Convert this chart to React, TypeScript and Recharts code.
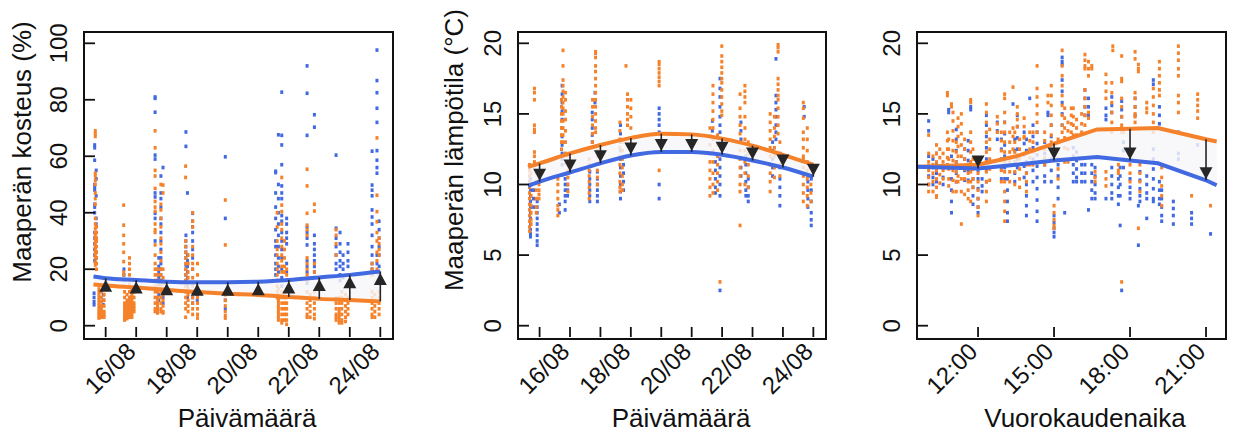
import React from 'react';
import { ComposedChart, Scatter, Line, Area, XAxis, YAxis, ReferenceLine } from 'recharts';

type Strip = [number, number[]];

const FONT = '"Liberation Sans", Arial, Helvetica, sans-serif';
const ORANGE = '#F5822A';
const BLUE = '#4169E1';
const DARK = '#262626';
const INK = '#111111';

const CHART_H = 437;
const MARGIN_TOP = 32;
const MARGIN_BOTTOM = 70;
const X_AXIS_H = 30;
const Y_AXIS_W = 30;

const dateTicks = [15, 16, 17, 18, 19, 20, 21, 22, 23, 24];
const dateLabelDays = [16, 18, 20, 22, 24];
const dateLabels = ['16/08', '18/08', '20/08', '22/08', '24/08'];
const hourTicks = [12, 15, 18, 21];
const hourLabels = ['12:00', '15:00', '18:00', '21:00'];
const moistTicks = [0, 20, 40, 60, 80, 100];
const tempTicks = [0, 5, 10, 15, 20];

const moistOrange: Strip[] = [
  [14.66, [69, 68, 67, 54, 53, 51.5, 50, 47, 45, 43, 38, 36, 34.5, 33, 32, 31, 30, 29, 28, 27, 26, 25, 24, 22.5, 21.5]],
  [14.7, [35, 33, 31, 30, 28, 26, 24, 22, 20]],
  [14.78, [14.5, 13, 12, 11, 10, 9, 8, 7, 6, 5, 4.5, 4, 3, 2.7]],
  [14.86, [12, 10, 8.5, 7, 6, 5, 4, 3.5, 3]],
  [14.95, [11, 9, 7, 5, 4, 3]],
  [15.59, [42.7, 35.6, 32, 29, 26, 22.7, 19, 18]],
  [15.62, [12, 10, 8, 7, 6, 5, 4, 3, 2.5, 2]],
  [15.7, [11, 9, 8, 7, 6, 5, 4, 3, 2.5]],
  [15.78, [24, 22, 20, 18, 16, 14.5, 12, 10, 9, 8, 7, 6, 5, 4, 3]],
  [15.86, [13, 11, 10, 9, 8, 7, 6, 5, 4, 3]],
  [15.93, [12, 10, 8, 7, 6, 5]],
  [16.62, [69, 63, 55, 53, 48.6, 44, 42, 40.5, 36, 34, 33, 28.6, 25, 22, 20, 18, 16, 14, 12, 10, 8, 6, 5]],
  [16.7, [20, 18, 16, 14, 12, 10, 9, 8, 7, 6, 5, 4.5]],
  [16.81, [50, 43, 41, 38, 35, 31, 29, 26, 23, 20, 18, 16, 14, 12, 10, 8, 6, 5]],
  [16.88, [49.8, 47, 20, 17, 15, 13, 11, 9, 7, 5, 4.5]],
  [17.62, [56.5, 52.5, 30, 28, 26, 24, 22, 20, 18, 16, 14, 12, 10, 8, 6, 3]],
  [17.7, [25, 22, 19, 17, 15, 13, 11, 9, 7, 5]],
  [17.85, [40, 37, 35, 28, 25, 22, 20, 17, 14, 12, 10, 8, 6, 4]],
  [18.01, [22, 18, 15, 12, 10, 8, 6, 4, 2.7]],
  [18.92, [44.5, 28.6, 11, 9, 7, 5, 3.5, 2.7]],
  [20.62, [40, 35, 30, 27, 25, 22, 20, 18, 16, 14, 12, 10]],
  [20.66, [13, 11, 10, 9, 8, 7, 6, 5, 4, 3, 2]],
  [20.77, [52.5, 42.7, 40.4, 36, 34, 31, 28, 25, 23, 21, 19, 12, 10, 8, 6, 4, 2, 1]],
  [20.86, [30, 27, 24, 21, 19, 12, 10, 8, 6, 4, 2]],
  [20.93, [20, 18, 10, 8, 6, 4, 2, 0.5]],
  [21.6, [55.4, 49.5, 39.8, 35.6, 34, 32, 24, 22, 20, 18, 16, 12, 10, 8, 6, 4, 3]],
  [21.7, [11, 9, 7, 5, 3]],
  [21.84, [43, 40.6, 22, 19, 17, 12, 10, 8, 6, 4, 2.5]],
  [22.55, [34, 32, 29, 25, 9.8, 8, 6, 4, 3, 2]],
  [22.65, [10, 8, 6, 5, 4, 3, 2, 1]],
  [22.74, [12, 10, 8, 6, 4, 2, 1]],
  [22.86, [11, 9, 7, 5, 3, 1.5]],
  [22.94, [10, 8, 6, 4]],
  [23.73, [22, 20, 18, 12, 10, 8, 6, 4, 3]],
  [23.82, [11, 9, 7, 5, 3]],
  [23.89, [66.5, 46.2, 40.4, 36.8, 33, 30, 26, 23, 20]],
  [23.96, [31, 29, 27, 25, 12, 10, 8, 6, 4]],
];
const moistBlue: Strip[] = [
  [14.64, [64, 63, 58.6, 50, 49, 48, 43, 42, 40, 33, 31, 29, 27, 25, 23]],
  [14.69, [55, 52, 46, 38, 36, 30, 26, 24]],
  [14.62, [11.5, 10, 8.5, 7.4]],
  [14.92, [11, 9, 7.4]],
  [15.6, [20, 18, 16]],
  [15.82, [10, 8]],
  [16.62, [81, 80.5, 75.6, 60.4, 59, 47, 45.6, 39.8, 38, 30]],
  [16.81, [53, 47, 45, 42, 38, 36, 33, 30, 27, 24, 22, 20, 18, 16, 14.5]],
  [16.88, [56, 15, 12, 10, 8]],
  [16.74, [24, 21, 19, 17, 15, 13, 11, 9]],
  [17.63, [68.6, 63.5, 32, 30, 28, 26, 24, 21.5, 20, 18, 16]],
  [17.68, [47, 25, 23, 21, 19, 17, 14, 12, 10]],
  [17.85, [39.8, 37, 35, 33, 30, 27, 24, 20, 15, 12, 10, 8]],
  [18.0, [14, 11, 9]],
  [18.92, [59.8, 38, 12, 9, 6]],
  [20.57, [54.7, 54.2, 47, 42, 38, 34, 30, 28, 25, 22, 20, 18]],
  [20.66, [67.6, 50, 45, 40, 36, 32, 28, 24, 21, 19]],
  [20.77, [82.7, 67.4, 64, 57, 49.5, 47, 45, 39, 37, 33, 30, 27, 24, 20, 17, 14]],
  [20.93, [38, 36, 33, 31, 29, 22, 19]],
  [21.6, [92, 82.3, 67.4, 35, 33, 31, 28.6, 23, 21, 19, 15]],
  [21.84, [74.7, 70.3, 32, 29, 27, 25, 23, 21, 19]],
  [22.55, [60.4, 34.5, 31, 28, 25, 22, 20]],
  [22.68, [33, 29, 26, 23, 21, 18, 16]],
  [22.78, [25, 22, 20, 17]],
  [22.94, [29, 26, 23, 21]],
  [23.73, [61.8, 49.8, 48, 46, 41, 38.5, 36, 32, 28, 25, 22, 20]],
  [23.89, [97.6, 86.8, 82.5, 77, 72, 62, 58.6, 56, 54, 25, 22]],
  [23.96, [37, 34, 31, 28, 25, 21, 18]],
];
const moistCurveX = [14.6, 15, 16, 17, 18, 19, 20, 21, 22, 23, 24];
const moistCurveOrange = [14.6, 14.2, 13.5, 12.7, 11.9, 11.3, 10.9, 10.2, 9.5, 9.1, 8.6];
const moistCurveBlue = [17.4, 16.8, 16.2, 15.6, 15.4, 15.4, 15.6, 16.2, 17.1, 18.0, 19.2];
const moistArrowX = [15, 16, 17, 18, 19, 20, 21, 22, 23, 24];
const moistArrowFrom = [14.2, 13.5, 12.7, 11.9, 11.3, 10.9, 10.2, 9.5, 9.1, 8.6];
const moistArrowTo = [16.8, 16.2, 15.6, 15.4, 15.4, 15.6, 16.2, 17.1, 18.0, 19.2];

const tempOrange: Strip[] = [
  [14.67, [11.4, 11, 10.6, 10.2, 9.8, 9.4, 9, 8.6, 8.2, 7.8, 7.4, 7, 6.7]],
  [14.72, [10.8, 10, 9.2, 8.5, 8, 7.5, 7.2]],
  [14.83, [16.8, 16.5, 16, 14.2, 13.9, 13.7, 12.3, 12, 11.6, 11.4]],
  [14.89, [10.8, 10.2, 9.6, 9, 8.4, 8]],
  [14.98, [10.4, 10, 9.6, 9.3, 9]],
  [15.6, [10.4, 10, 9.5, 9, 8.5, 8.2, 7.8]],
  [15.72, [16, 15.5, 15, 14.5, 14, 13.5, 13, 12.5]],
  [15.77, [19.5, 18.4, 17.4, 17, 16.6, 16.2, 15.8, 15.4, 15, 14.5, 14, 13.5, 13]],
  [15.85, [16.5, 16, 15.2, 14.6, 13.8, 13, 12.2, 11.5]],
  [15.93, [12, 11.5, 11, 10.5, 10, 9.5]],
  [16.63, [11.8, 11.4, 11, 10.6, 10.2, 9.8, 9.4, 9]],
  [16.74, [16, 15.5, 14.8, 14.2, 13.6, 13]],
  [16.84, [19.4, 19.3, 19, 18.4, 18, 17.5, 17, 16.5, 16, 15.5, 15, 14.5, 14, 13.7]],
  [16.9, [12.4, 12, 11.5, 11, 10.5, 10]],
  [17.64, [14.4, 13.8, 13.2, 12.6, 12, 11.4, 10.8, 10.2, 9.8, 9.5]],
  [17.72, [13, 12.4, 11.8, 11.2, 10.6, 10, 9.6]],
  [17.84, [18.4]],
  [17.89, [16.4, 16, 15.5, 15, 14.6, 14.2]],
  [18.0, [16, 15.4, 14.8, 14]],
  [18.93, [18.7, 18.5, 18.2, 17.9, 17.6, 17.3, 17, 11]],
  [20.6, [14, 13.4, 12.8, 12.2, 11.6, 11, 10.4, 9.8, 9.2]],
  [20.7, [17, 16.4, 15.8, 15.2, 14.6, 14, 13.2, 12.4, 11.6, 10.8, 10, 9.4]],
  [20.85, [13.5, 12.8, 12, 11.4, 10.8, 10.2, 9.6]],
  [20.93, [3.1]],
  [20.99, [19.8, 19.1, 18.7, 18.3, 17.9, 17.5, 17.2, 16.7, 16.2, 15.7, 15.2, 14.9]],
  [21.59, [16.4, 15.4, 14.8, 14.2, 13.6, 13, 12.4, 11.8, 11.2, 10.6, 10, 9.5, 7.1]],
  [21.75, [17, 16.6, 16.2, 15.8, 14.8, 14, 13.2, 12.4, 11.6, 10.8, 10]],
  [21.86, [13, 12.2, 11.4, 10.6, 9.8]],
  [22.58, [15, 14.4, 13.8, 13.2, 12.6, 12, 11.4, 10.8, 10.2, 9.5]],
  [22.72, [14.8, 14, 13.4, 12.6, 12, 11.2, 10.5]],
  [22.84, [19.9, 19.7, 19.4, 17.5, 17.1, 16.7, 16.3, 16, 15.4, 14.8, 14.2, 13.6]],
  [22.9, [13, 12.2, 11.4, 10.6]],
  [23.67, [15.8, 15.4, 14.7, 13.7, 13.2, 12.6, 12, 11.8, 11.2, 10.6, 10, 9.4, 8.8]],
  [23.8, [14, 13.2, 12.4, 11.6, 11, 10.4, 9.8, 9.2, 8.5]],
  [23.92, [11.2, 10.6, 10, 9.4, 8.8]],
];
const tempBlue: Strip[] = [
  [14.7, [10.4, 10, 9.6, 9.2, 8.8, 8.4, 8, 7.6, 7.2, 6.8, 6.5, 6.3]],
  [14.92, [8.8, 8.4, 8, 7.6, 7.2, 6.8, 6.4, 6, 5.7]],
  [14.8, [9.6, 9, 8.4]],
  [15.74, [17, 16.4, 15.8, 15.2, 14.6, 14, 13.4, 12.8, 12.2, 11.8, 11.4]],
  [15.84, [10.4, 10, 9.6, 9.2, 8.8, 8.2]],
  [15.92, [10, 9.6, 9.2]],
  [15.65, [8.6, 8]],
  [16.73, [15.1, 14.6, 14, 13.5, 13]],
  [16.65, [10.9, 10.4, 10, 9.6, 9.2, 8.8]],
  [16.9, [10.9, 10.4, 10, 9.6, 9.2, 8.8]],
  [16.82, [16.5, 15.8]],
  [17.66, [14.2, 13.6, 13, 12.4, 11.8, 11.2, 10.6, 10, 9.5, 9]],
  [17.76, [12, 11.4, 10.8, 10.2, 9.6]],
  [18.93, [15.4, 15, 14.6, 14.2, 13.7, 10, 9]],
  [20.93, [17.5, 16.8, 16.2, 15.5, 14.8, 14.2, 13.7, 11.8, 11.2, 10.6, 10, 9.2, 2.5]],
  [20.78, [11.6, 11, 10.4, 9.8, 9.4]],
  [20.68, [14.5, 13.8]],
  [21.62, [14.4, 13.8, 13.2, 11.2, 10.6]],
  [21.78, [12, 11.4, 10.8, 10.2, 9.6, 9.2]],
  [21.86, [10.4, 9.8, 9.2, 8.8]],
  [22.77, [18.9, 16.3, 15.8, 15.3, 14.8, 14.2, 13.7, 13.2]],
  [22.66, [13, 12.4, 11.8, 11.2, 10.6]],
  [22.9, [12, 11.2, 10.4, 9.8, 9.2, 8.5]],
  [23.7, [15.5, 14.8]],
  [23.82, [10.7, 10.2, 9.6, 9, 8.4]],
  [23.93, [10.4, 9.6, 8.8, 8, 7.5, 7.1]],
];
const tempCurveX = [14.62, 15, 16, 17, 18, 19, 20, 21, 22, 23, 24];
const tempCurveOrange = [11.25, 11.5, 12.2, 12.8, 13.3, 13.6, 13.55, 13.25, 12.75, 12.1, 11.4];
const tempCurveBlue = [9.9, 10.2, 10.85, 11.5, 12.05, 12.3, 12.3, 12.1, 11.7, 11.2, 10.55];
const tempArrowX = [15, 16, 17, 18, 19, 20, 21, 22, 23, 24];
const tempArrowFrom = [11.5, 12.2, 12.8, 13.3, 13.6, 13.55, 13.25, 12.75, 12.1, 11.4];
const tempArrowTo = [10.2, 10.85, 11.5, 12.05, 12.3, 12.3, 12.1, 11.7, 11.2, 10.55];

const hourOrange: Strip[] = [
  [10.05, [13.5, 12.2, 11.6, 11, 10.5, 10, 9.5]],
  [10.22, [12, 11.4, 10.8, 10.2, 9.5]],
  [10.36, [12.8, 12.2, 11.6, 11, 10.4, 9.8, 9.2, 9.1]],
  [10.49, [12.5, 11.9, 11.3, 10.7, 10.1]],
  [10.62, [12.2, 11.6, 11, 10.4]],
  [10.79, [16.5, 16.3, 13.7, 13.1, 12.5, 11.9, 11.4]],
  [10.84, [13.2, 12.5, 11.8, 11.1, 10.4, 9.9]],
  [10.95, [15.7, 15.5]],
  [11.01, [15.1, 14.5, 13.8, 13.1, 12.4, 11.7, 11, 10.3, 9.5]],
  [11.14, [13, 12.3, 11.6, 10.9, 10.2, 9.5]],
  [11.21, [14.7, 14.1, 13.4, 12.7, 12, 11.3, 10.6, 10.2]],
  [11.34, [15, 14.3, 13.6, 12.8, 12, 11.2, 10.4, 9.5, 7.2]],
  [11.47, [13.2, 12.5, 11.8, 11.1, 10.4, 9.3]],
  [11.61, [11.4, 10.8, 10.2, 9.6, 9]],
  [11.71, [16, 15.8, 13.7, 13, 12.3, 11.6, 10.9, 10.2, 8.8]],
  [11.8, [12.5, 11.8, 11.1, 10.4, 9.8]],
  [12.0, [11.4, 10.8, 10.2, 9.6, 9, 8.4, 7.8]],
  [12.33, [15.7, 15.1, 14.4, 13.7, 13, 12.3, 11.6, 10.9, 10.2, 9.5, 8.8]],
  [12.46, [13.9, 13.2, 12.5, 11.8, 11.1, 10.3]],
  [12.76, [14.8, 14.3, 13.7]],
  [12.92, [13.7, 13.1, 12.4, 11.7, 11, 10.2]],
  [13.05, [16.4, 16.1, 15.1, 14.4, 13.7, 13, 12.3, 11.6, 10.9, 10.2, 9.5, 8.8, 8.1, 7.4]],
  [13.25, [13.7, 13, 12.3, 11.6, 10.9, 10.2]],
  [13.38, [16.9, 14, 13.4, 12.5]],
  [13.45, [13.7, 13, 12.3, 11.6, 10.9, 10]],
  [13.55, [15.5, 15, 14.6, 14.1]],
  [13.64, [13.2, 12.5, 11.8, 11.1, 10.4, 9.8]],
  [13.82, [14.7, 14.1, 13.4, 13.3]],
  [13.91, [11.4, 10.8, 10.2, 9.5]],
  [14.04, [13.7, 13.1, 12.5, 11.9, 11.4]],
  [14.17, [13.7, 13, 12.3, 11.4]],
  [14.33, [18.4, 16.8, 16.2, 15.6, 15, 14.4, 13.7]],
  [14.63, [13.7, 13.1, 12.5, 11.9, 11.4]],
  [14.76, [16.3, 15.8]],
  [14.89, [17, 16.3, 15.6, 14.9, 14.2, 13.5, 13]],
  [15.0, [8.5, 8, 7.5, 7.1, 6.9]],
  [15.16, [13.2, 12.5, 11.8, 11.1, 10.4]],
  [15.32, [19.5, 18.4, 17.7, 17, 16.3, 15.6, 14.9, 14.2, 13.7]],
  [15.42, [15.4, 14.7, 14, 13.3, 12.6, 11.6]],
  [15.55, [14.4, 13.8, 13.2, 12.5, 11.6]],
  [15.68, [15.4, 14.9, 14.3, 13.7]],
  [15.76, [15.4, 14.8, 14.2, 13.5]],
  [15.89, [14.6, 14, 13.5]],
  [16.09, [15, 14.3, 13.7]],
  [16.22, [19.2, 18.8, 18.4, 18.2, 16.7, 16.1, 15.5, 14.9, 14.2]],
  [16.36, [18.7, 18.2, 17.7, 15.1, 14.7]],
  [16.49, [18.4, 18.2]],
  [16.62, [10.9, 10.5, 10.2]],
  [17.05, [17.8, 17.2, 16.6, 16.1, 10.9, 10.4, 9.9]],
  [17.28, [17.2, 16.5, 15.8, 15.1, 14.4, 13.7]],
  [17.32, [19.8, 19.5]],
  [17.54, [11.4, 11, 10.8]],
  [17.67, [19.1, 17.5, 17.3, 16.1, 15.5, 14.8, 14.2, 13.7, 3.1]],
  [17.74, [13.7]],
  [18.0, [11.4, 10.8, 10.2]],
  [18.2, [19.4, 18.9, 16.5, 16.1, 15.5, 15, 14.8, 14.4]],
  [18.33, [18.5, 18.2, 18, 6.9]],
  [18.39, [11.4, 10.8, 10.2, 9.5]],
  [18.66, [15.8, 15.4, 15.1]],
  [18.92, [16.8, 16.2, 15.6, 15, 14.4, 13.7]],
  [19.16, [18.7, 18.2, 17.7, 17.2, 16.7, 16.3]],
  [19.25, [11.2, 10.5, 9.9, 9.2, 8.5]],
  [19.91, [19.8, 19.3, 18.8, 18.2, 17.7, 16.3, 15.8, 15.1]],
  [20.43, [9.2]],
  [20.67, [16.4, 16, 15.6, 15.2, 14.7]],
  [21.18, [8.5]],
];
const hourBlue: Strip[] = [
  [10.05, [14.5, 13.8, 12, 11.3, 10.6, 10]],
  [10.22, [11.8, 11.2, 10.5, 10]],
  [10.36, [12.2, 11.5, 10.8, 10.2]],
  [10.62, [11.2, 10.5, 10]],
  [10.84, [15.3, 15.1]],
  [10.95, [12, 11.2, 10.4, 9.6, 8.8, 8]],
  [11.14, [13.9, 13.2, 12.4, 11.6, 10.8, 10.2]],
  [11.47, [12.5, 11.8, 11, 10.3]],
  [11.61, [13.1, 12.4, 11.7, 11, 10.3]],
  [11.71, [15.5, 15.3]],
  [11.8, [10.4, 9.8, 9.2, 8.6]],
  [12.0, [11.6, 11, 10.4, 9.7, 9, 8.4, 8]],
  [12.16, [10.4, 9.9, 9.5]],
  [12.33, [14.9, 14.2, 13.4, 12.6, 11.8, 11, 10.2]],
  [12.76, [14.4, 13.8, 13.2]],
  [12.92, [13.2, 12.5, 11.8, 11.1, 10.4]],
  [13.05, [14.4, 13.6, 12.8, 12, 11.2, 10.4]],
  [13.16, [10.4, 9.6, 8.8, 8, 7.4]],
  [13.38, [15.7]],
  [13.45, [13.2, 12.4, 11.6, 10.8, 10.2]],
  [13.55, [14.9, 14.1, 13.3, 12.5, 11.8, 11.2]],
  [13.82, [13.7, 12.9, 12.1, 11.3, 10.5]],
  [13.91, [13.2, 12.4, 11.6, 10.8, 10, 9.2, 8.5, 7.8]],
  [14.04, [16.1]],
  [14.17, [14.2, 13.4, 12.6, 11.8, 11, 10.2]],
  [14.33, [13.7, 12.9, 12.1, 11.3, 10.5, 9.7, 8.9, 8.1, 7.4]],
  [14.63, [13, 12.2, 11.4, 10.6, 10.2]],
  [14.76, [15.1, 14.9]],
  [14.89, [14.2, 13.4, 12.6, 11.8, 11, 10.2]],
  [15.0, [7.8, 7.3, 6.9, 6.6, 6.3]],
  [15.16, [11.4, 10.6, 9.8, 9]],
  [15.32, [19, 18.7, 18.5, 17.4, 16.6, 15.8, 15, 14.2]],
  [15.42, [8]],
  [15.76, [12.6, 12, 11.4, 10.8, 10.2]],
  [15.89, [12.3, 11.7, 11.1, 10.5, 10.2]],
  [16.09, [11.4, 10.8, 10.2]],
  [16.22, [16.7, 16.1, 15.5, 14.9, 11.4, 10.8, 10.2]],
  [16.36, [16.1, 15.5, 14.9, 8.2]],
  [16.49, [11.4, 10.8, 10.2, 9.6, 9]],
  [16.62, [11.2, 10.6, 10, 9.4, 9]],
  [17.05, [15.4, 14.9, 14.6, 9]],
  [17.28, [16.2, 15.6, 15.1, 11.2, 10.6, 10, 9.4, 9]],
  [17.54, [10.4, 9.8, 9.2, 8.6]],
  [17.61, [11.2, 10.6, 10, 9.2, 7.1]],
  [17.67, [15.9, 15.3, 14.8, 2.5]],
  [17.74, [13, 12.4, 11.8, 11.2]],
  [18.0, [10.4, 9.8, 9.4, 9]],
  [18.2, [16.1, 15.5, 14.9]],
  [18.33, [8.5, 5.7]],
  [18.39, [10.9, 10.3, 9.7, 9.2, 8.8]],
  [18.66, [10.6, 10, 9.4, 9, 7.6]],
  [18.92, [17.4, 17.1, 12.5, 11.8, 11.1, 10.4, 9.7, 9, 8.8]],
  [19.16, [15.5, 14.9, 14.3, 10.2, 9.6, 9, 8.6]],
  [19.25, [9.6, 9, 8.4, 7.8, 7.4]],
  [19.71, [8.8, 8.3, 7.8, 7.2]],
  [19.91, [13.7, 12.2, 11.8]],
  [20.43, [8, 7.6, 7.2]],
  [20.67, [12.8]],
  [20.99, [11.1, 10.7, 10.4]],
  [21.18, [6.5]],
];
const hourCurveX = [9.6, 12, 13.5, 15, 16.7, 18, 19.1, 21, 21.42];
const hourCurveOrange = [11.25, 11.4, 12.0, 12.9, 13.9, 13.95, 14.0, 13.2, 13.05];
const hourCurveBlue = [11.25, 11.13, 11.4, 11.7, 11.95, 11.7, 11.5, 10.3, 9.95];
const hourArrowX = [12, 15, 18, 21];
const hourArrowFrom = [11.4, 12.9, 13.95, 13.2];
const hourArrowTo = [11.13, 11.7, 11.7, 10.3];

const toPoints = (strips: Strip[]) => strips.flatMap(([x, ys]) => ys.map((y) => ({ x, y })));
const toCurve = (xs: number[], a: number[], b: number[]) =>
  xs.map((x, i) => ({ x, orange: a[i], blue: b[i], band: [Math.min(a[i], b[i]), Math.max(a[i], b[i])] }));

const dot = (color: string) => (p: any) => {
  if (p.cx == null || p.cy == null) return <g />;
  return <rect x={p.cx - 1.5} y={p.cy - 1.8} width={3} height={3.6} fill={color} />;
};

const triangle = (up: boolean) => (p: any) => {
  if (p.cx == null || p.cy == null) return <g />;
  const w = 6.5;
  const h = 12;
  const ax = p.cx;
  const ay = up ? p.cy + 1.5 : p.cy - 1;
  const by = up ? ay + h : ay - h;
  return <polygon points={`${ax},${ay} ${ax - w},${by} ${ax + w},${by}`} fill={DARK} />;
};

const makeYTick = (p: any) => {
  const { x, y, payload } = p;
  const tx = x - 17;
  return (
    <g>
      <line x1={x} y1={y} x2={x + 11} y2={y} stroke={INK} strokeWidth={1.8} />
      <text x={tx} y={y} transform={`rotate(-90 ${tx} ${y})`} textAnchor="middle" fontSize={24} fontFamily={FONT} fill={INK}>
        {payload.value}
      </text>
    </g>
  );
};

const makeXTick = (labelFor: (v: number) => string | null) => (p: any) => {
  const { x, y, payload } = p;
  const lbl = labelFor(payload.value);
  const ax = x + 1;
  const ay = y + 16;
  return (
    <g>
      <line x1={x} y1={y} x2={x} y2={y - 10} stroke={INK} strokeWidth={1.8} />
      {lbl ? (
        <text x={ax} y={ay} transform={`rotate(-45 ${ax} ${ay})`} textAnchor="end" fontSize={24} fontFamily={FONT} fill={INK}>
          {lbl}
        </text>
      ) : null}
    </g>
  );
};

const dateLabelFor = (v: number) => {
  const i = dateLabelDays.indexOf(v);
  return i >= 0 ? dateLabels[i] : null;
};
const hourLabelFor = (v: number) => {
  const i = hourTicks.indexOf(v);
  return i >= 0 ? hourLabels[i] : null;
};

type PanelProps = {
  left: number;
  width: number;
  marginLeft: number;
  marginRight: number;
  xDomain: [number, number];
  yDomain: [number, number];
  xTicks: number[];
  yTicks: number[];
  labelFor: (v: number) => string | null;
  orange: Strip[];
  blue: Strip[];
  curveX: number[];
  curveOrange: number[];
  curveBlue: number[];
  arrowX: number[];
  arrowFrom: number[];
  arrowTo: number[];
  up: boolean;
  curveType: 'monotone' | 'linear';
};

function Panel(props: PanelProps) {
  const curve = toCurve(props.curveX, props.curveOrange, props.curveBlue);
  const orangePts = toPoints(props.orange);
  const bluePts = toPoints(props.blue);
  const tips = props.arrowX.map((x, i) => ({ x, y: props.arrowTo[i] }));
  const plotLeft = props.marginLeft + Y_AXIS_W;
  const plotTop = MARGIN_TOP;
  const plotW = props.width - props.marginRight - plotLeft;
  const plotH = CHART_H - MARGIN_BOTTOM - X_AXIS_H - MARGIN_TOP;
  return (
    <div style={{ position: 'absolute', left: props.left, top: 0, width: props.width, height: CHART_H }}>
      <ComposedChart
        width={props.width}
        height={CHART_H}
        data={curve}
        margin={{ top: MARGIN_TOP, right: props.marginRight, bottom: MARGIN_BOTTOM, left: props.marginLeft }}
      >
        <XAxis
          type="number"
          dataKey="x"
          domain={props.xDomain}
          allowDataOverflow
          ticks={props.xTicks}
          interval={0}
          height={X_AXIS_H}
          axisLine={false}
          tickLine={false}
          tickSize={0}
          tickMargin={0}
          tick={makeXTick(props.labelFor)}
        />
        <YAxis
          type="number"
          dataKey="y"
          domain={props.yDomain}
          allowDataOverflow
          ticks={props.yTicks}
          interval={0}
          width={Y_AXIS_W}
          axisLine={false}
          tickLine={false}
          tickSize={0}
          tickMargin={0}
          tick={makeYTick}
        />
        <Scatter data={bluePts} dataKey="y" shape={dot(BLUE)} isAnimationActive={false} zIndex={50} />
        <Scatter data={orangePts} dataKey="y" shape={dot(ORANGE)} isAnimationActive={false} zIndex={51} />
        <Area
          dataKey="band"
          type={props.curveType}
          stroke="none"
          fill="#F6F6F9"
          fillOpacity={0.82}
          isAnimationActive={false}
          zIndex={100}
        />
        <Line dataKey="orange" type={props.curveType} stroke={ORANGE} strokeWidth={4} dot={false} isAnimationActive={false} zIndex={400} />
        <Line dataKey="blue" type={props.curveType} stroke={BLUE} strokeWidth={4} dot={false} isAnimationActive={false} zIndex={401} />
        {props.arrowX.map((x, i) => (
          <ReferenceLine
            key={`a${i}`}
            segment={[{ x, y: props.arrowFrom[i] }, { x, y: props.arrowTo[i] }]}
            stroke={DARK}
            strokeWidth={1.6}
            zIndex={450}
          />
        ))}
        <Scatter data={tips} dataKey="y" shape={triangle(props.up)} isAnimationActive={false} zIndex={700} />
      </ComposedChart>
      <div
        style={{
          position: 'absolute',
          left: plotLeft - 1,
          top: plotTop - 1,
          width: plotW,
          height: plotH,
          border: '2px solid #111',
          boxSizing: 'content-box',
          pointerEvents: 'none',
        }}
      />
    </div>
  );
}

export default function App() {
  return (
    <div style={{ position: 'absolute', left: 0, top: 0, width: 1235, height: 437, background: '#fff', overflow: 'hidden' }}>
      <Panel
        left={0}
        width={420}
        marginLeft={54}
        marginRight={29}
        xDomain={[14.29, 24.35]}
        yDomain={[-4, 104]}
        xTicks={dateTicks}
        yTicks={moistTicks}
        labelFor={dateLabelFor}
        orange={moistOrange}
        blue={moistBlue}
        curveX={moistCurveX}
        curveOrange={moistCurveOrange}
        curveBlue={moistCurveBlue}
        arrowX={moistArrowX}
        arrowFrom={moistArrowFrom}
        arrowTo={moistArrowTo}
        up={true}
        curveType="monotone"
      />
      <Panel
        left={420}
        width={420}
        marginLeft={68}
        marginRight={16}
        xDomain={[14.29, 24.35]}
        yDomain={[-0.8, 20.8]}
        xTicks={dateTicks}
        yTicks={tempTicks}
        labelFor={dateLabelFor}
        orange={tempOrange}
        blue={tempBlue}
        curveX={tempCurveX}
        curveOrange={tempCurveOrange}
        curveBlue={tempCurveBlue}
        arrowX={tempArrowX}
        arrowFrom={tempArrowFrom}
        arrowTo={tempArrowTo}
        up={false}
        curveType="monotone"
      />
      <Panel
        left={840}
        width={395}
        marginLeft={47}
        marginRight={11}
        xDomain={[9.59, 21.71]}
        yDomain={[-0.8, 20.8]}
        xTicks={hourTicks}
        yTicks={tempTicks}
        labelFor={hourLabelFor}
        orange={hourOrange}
        blue={hourBlue}
        curveX={hourCurveX}
        curveOrange={hourCurveOrange}
        curveBlue={hourCurveBlue}
        arrowX={hourArrowX}
        arrowFrom={hourArrowFrom}
        arrowTo={hourArrowTo}
        up={false}
        curveType="linear"
      />
      <svg width={1235} height={437} style={{ position: 'absolute', left: 0, top: 0, pointerEvents: 'none' }}>
        <g fontFamily={FONT} fontSize={26} fill={INK}>
          <text x={31} y={152} transform="rotate(-90 31 152)" textAnchor="middle">Maaperän kosteus (%)</text>
          <text x={463} y={150} transform="rotate(-90 463 150)" textAnchor="middle">Maaperän lämpötila (°C)</text>
          <text x={247} y={427} textAnchor="middle">Päivämäärä</text>
          <text x={681} y={427} textAnchor="middle">Päivämäärä</text>
          <text x={1085} y={427} textAnchor="middle">Vuorokaudenaika</text>
        </g>
      </svg>
    </div>
  );
}
